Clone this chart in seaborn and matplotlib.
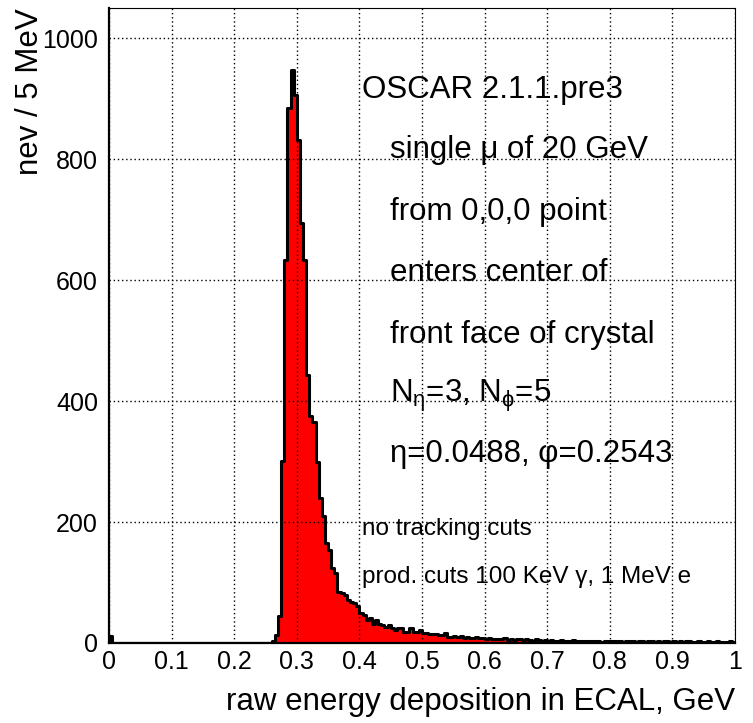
import numpy as np
import pandas as pd
import matplotlib
matplotlib.use("Agg")
import matplotlib.pyplot as plt
import seaborn as sns
from matplotlib.ticker import MultipleLocator, FixedLocator

# 5 MeV bins from 0 to 1 GeV (200 bins), counts
bin_width = 0.005
counts = [
    12, 0, 0, 0, 0, 0, 0, 0, 0, 0, 0, 0, 0, 0, 0, 0, 0, 0, 0, 0,          # 0.00-0.10
    0, 0, 0, 0, 0, 0, 0, 0, 0, 0, 0, 0, 0, 0, 0, 0, 0, 0, 0, 0,           # 0.10-0.20
    0, 0, 0, 0, 0, 0, 0, 0, 0, 0, 0, 0, 3, 14, 45, 301, 634, 884, 947, 906,  # 0.20-0.30
    831, 694, 634, 443, 376, 365, 300, 240, 210, 165, 153, 124, 116, 85, 82, 80, 71, 68, 66, 62,  # 0.30-0.40
    49, 46, 38, 41, 32, 38, 32, 30, 27, 30, 24, 21, 24, 24, 19, 19, 24, 19, 19, 21,  # 0.40-0.50
    16, 16, 15, 15, 15, 13, 13, 16, 10, 10, 11, 10, 12, 9, 10, 8, 9, 10, 8, 8,      # 0.50-0.60
    7, 8, 6, 7, 6, 7, 8, 5, 6, 5, 6, 7, 5, 6, 5, 4, 6, 5, 4, 5,                      # 0.60-0.70
    4, 5, 4, 3, 5, 4, 3, 4, 5, 3, 4, 3, 4, 3, 3, 4, 3, 2, 4, 3,                      # 0.70-0.80
    3, 4, 3, 3, 2, 3, 4, 3, 2, 3, 3, 2, 3, 4, 2, 3, 2, 3, 3, 2,                      # 0.80-0.90
    3, 2, 3, 2, 3, 3, 2, 2, 3, 2, 2, 3, 2, 2, 3, 2, 2, 2, 3, 2,                      # 0.90-1.00
]
centers = (np.arange(len(counts)) + 0.5) * bin_width
df = pd.DataFrame({"energy": centers, "nev": counts})

x_ticks = [0, 0.1, 0.2, 0.3, 0.4, 0.5, 0.6, 0.7, 0.8, 0.9, 1.0]
x_ticklabels = ["0", "0.1", "0.2", "0.3", "0.4", "0.5", "0.6", "0.7", "0.8", "0.9", "1"]
y_ticks = [0, 200, 400, 600, 800, 1000]

big_lines = [
    "OSCAR 2.1.1.pre3",
    "single μ of 20 GeV",
    "from 0,0,0 point",
    "enters center of",
    "front face of crystal",
    r"N$_{\eta}$=3, N$_{\phi}$=5",
    "η=0.0488, φ=0.2543",
]
small_lines = ["no tracking cuts", "prod. cuts 100 KeV γ, 1 MeV e"]

sns.set_style("white")
plt.rcParams["font.family"] = ["Liberation Sans", "DejaVu Sans"]
plt.rcParams["mathtext.fontset"] = "custom"
plt.rcParams["mathtext.rm"] = "Liberation Sans"
plt.rcParams["mathtext.it"] = "Liberation Sans"
plt.rcParams["text.color"] = "black"
plt.rcParams["axes.labelcolor"] = "black"
plt.rcParams["xtick.color"] = "black"
plt.rcParams["ytick.color"] = "black"

W, H = 753, 723
fig = plt.figure(figsize=(W / 100, H / 100), dpi=100)
ax = fig.add_axes([109 / W, 1 - 643 / H, (735 - 109) / W, (643 - 8) / H])

sns.histplot(data=df, x="energy", weights="nev", binwidth=bin_width, binrange=(0, 1),
             element="step", fill=True, color="red", alpha=1, edgecolor="black",
             linewidth=2.2, ax=ax)

ax.set_xlim(0, 1)
ax.set_ylim(0, 1050)
ax.xaxis.set_major_locator(FixedLocator(x_ticks))
ax.set_xticklabels(x_ticklabels)
ax.xaxis.set_minor_locator(MultipleLocator(0.02))
ax.yaxis.set_major_locator(FixedLocator(y_ticks))
ax.yaxis.set_minor_locator(MultipleLocator(50))
ax.tick_params(which="both", direction="in", top=False, right=False, labelsize=18, width=1, color="black")
ax.tick_params(which="major", length=13)
ax.tick_params(which="minor", length=7)
ax.tick_params(axis="x", pad=5)
ax.tick_params(axis="y", pad=8)

ax.set_axisbelow(False)
ax.grid(True, which="major", color="black", linestyle=(0, (1, 2)), linewidth=1)

for side in ["left", "bottom"]:
    ax.spines[side].set_linewidth(1.6)
    ax.spines[side].set_color("black")
for side in ["top", "right"]:
    ax.spines[side].set_linewidth(0.8)
    ax.spines[side].set_color("black")

ax.set_xlabel("raw energy deposition in ECAL, GeV", fontsize=22.5, loc="right")
ax.xaxis.set_label_coords(1.0, -0.07)
ax.set_ylabel("nev / 5 MeV", fontsize=22.5, loc="top")
ax.yaxis.set_label_coords(-0.102, 1.0)

big_x = [362, 390, 390, 390, 390, 390, 390]
big_y = [98, 158, 220, 281, 343, 402, 462]
for s, px, py in zip(big_lines, big_x, big_y):
    fig.text(px / W, 1 - py / H, s, fontsize=22.5, va="baseline", ha="left")
for s, py in zip(small_lines, [535, 583]):
    fig.text(362 / W, 1 - py / H, s, fontsize=17.5, va="baseline", ha="left")

fig.savefig("out.png", dpi=100)
